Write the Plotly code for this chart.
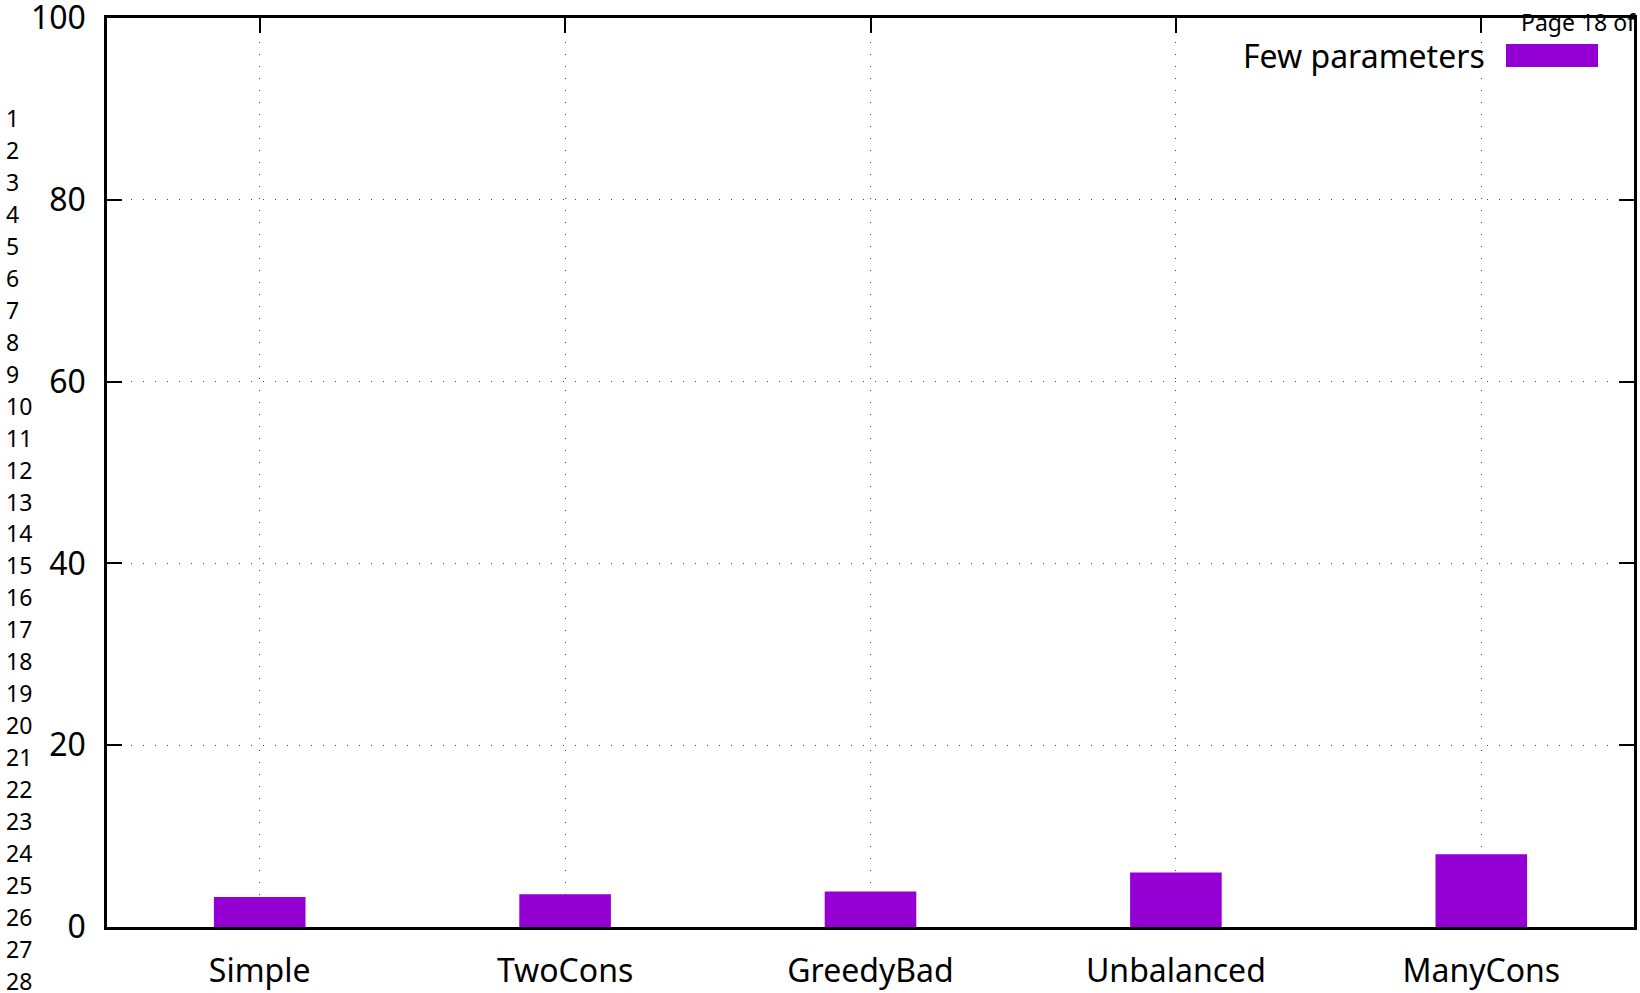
import plotly.graph_objects as go

categories = ["Simple", "TwoCons", "GreedyBad", "Unbalanced", "ManyCons"]
few_params = [3.3, 3.6, 3.9, 6.0, 8.0]
series_name = "Few parameters"
y_ticks = [0, 20, 40, 60, 80, 100]
line_numbers = list(range(1, 29))
page_text = "Page 18 of"

W, H = 1640, 993
L, R, T, B = 107, 1634, 18, 927
PW, PH = R - L, B - T


def px(x):
    return (x - L) / PW


def py(y):
    return (B - y) / PH


FONT = "Noto Sans"
COLOR = "#9400D3"

fig = go.Figure()
fig.add_trace(go.Bar(
    x=categories, y=few_params, name=series_name,
    marker=dict(color=COLOR, line=dict(width=0)), width=0.3,
    showlegend=False,
))

annotations = []
for i, n in enumerate(line_numbers):
    annotations.append(dict(
        x=px(4), y=py(118 + i * 31.96), xref="paper", yref="paper",
        text=str(n), showarrow=False, xanchor="left", yanchor="middle",
        font=dict(family=FONT, size=23, color="black"),
    ))
annotations.append(dict(
    x=px(1638), y=py(22), xref="paper", yref="paper", text=page_text,
    showarrow=False, xanchor="right", yanchor="middle",
    font=dict(family=FONT, size=23, color="black"),
))
annotations.append(dict(
    x=px(1487), y=py(56), xref="paper", yref="paper", text=series_name,
    showarrow=False, xanchor="right", yanchor="middle",
    font=dict(family=FONT, size=32, color="black"),
))

shapes = [dict(
    type="rect", xref="paper", yref="paper",
    x0=px(1506), x1=px(1598), y0=py(67), y1=py(44),
    fillcolor=COLOR, line=dict(width=0),
)]

axis_common = dict(
    showline=True, linecolor="black", linewidth=2.5, mirror="ticks",
    ticks="inside", ticklen=15, tickwidth=2, tickcolor="black",
    showgrid=True, gridcolor="#444", gridwidth=1, griddash="1px,11px",
    zeroline=False, tickfont=dict(family=FONT, size=32, color="black"),
    automargin=False, layer="below traces", ticklabeloverflow="allow",
)

fig.update_layout(
    width=W, height=H,
    margin=dict(l=L, r=W - R, t=T, b=H - B, pad=0, autoexpand=False),
    paper_bgcolor="white", plot_bgcolor="white",
    xaxis=dict(range=[-0.5, 4.5], ticklabelstandoff=14, **axis_common),
    yaxis=dict(range=[0, 100], tickvals=y_ticks, ticklabelstandoff=12,
               **axis_common),
    annotations=annotations, shapes=shapes,
    bargap=0.7,
)

fig.write_html(
    "out.html",
    config={"displayModeBar": False},
    post_script="document.body.style.margin='0';document.body.style.padding='0';",
)
